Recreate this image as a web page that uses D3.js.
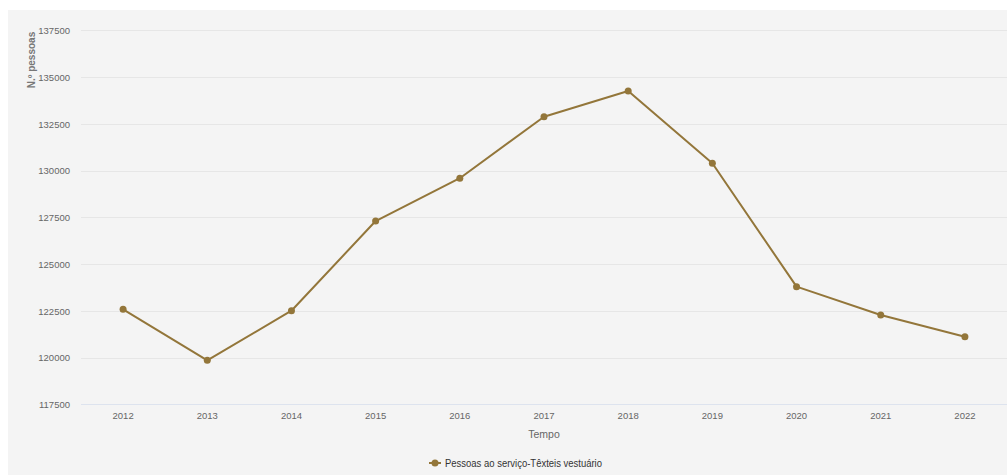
<!DOCTYPE html>
<html>
<head>
<meta charset="utf-8">
<script src="https://cdn.jsdelivr.net/npm/d3@7"></script>
<style>
  html, body { margin: 0; padding: 0; background: #ffffff; }
  svg { display: block; }
  text { font-family: "Liberation Sans", Arial, sans-serif; }
</style>
</head>
<body>
<svg id="chart" width="1007" height="475"></svg>
<script>
// Employment in the textiles/clothing sector, by year
const years = ["2012","2013","2014","2015","2016","2017","2018","2019","2020","2021","2022"];
const pessoas = [122580, 119850, 122505, 127300, 129590, 132880, 134255, 130390, 123790, 122275, 121115];
const yTicks = [117500, 120000, 122500, 125000, 127500, 130000, 132500, 135000, 137500];
const seriesName = "Pessoas ao serviço-Têxteis vestuário";
const yTitle = "N.º pessoas";
const xTitle = "Tempo";

const W = 1007, H = 475;
const panel = { x: 8, y: 10 };
const plot = { left: 81, right: 1007, top: 30.3, bottom: 404.3 };
const lineColor = "#93763a";
const textColor = "#666666";

const svg = d3.select("#chart");

svg.append("rect")
  .attr("x", panel.x).attr("y", panel.y)
  .attr("width", W - panel.x).attr("height", H - panel.y)
  .attr("fill", "#f4f4f4");

const x = d3.scaleBand().domain(years).range([plot.left, plot.right]).padding(0);
const y = d3.scaleLinear().domain([117500, 137500]).range([plot.bottom, plot.top]);
const cx = d => x(d) + x.bandwidth() / 2;

// horizontal grid
svg.append("g")
  .selectAll("line")
  .data(yTicks)
  .join("line")
  .attr("x1", plot.left).attr("x2", plot.right)
  .attr("y1", d => Math.round(y(d)) + 0.5).attr("y2", d => Math.round(y(d)) + 0.5)
  .attr("stroke", d => d === yTicks[0] ? "#dde3ee" : "#e6e6e6")
  .attr("stroke-width", 1);

// y axis labels
const yAxis = svg.append("g")
  .attr("transform", `translate(${plot.left - 11},0)`)
  .call(d3.axisLeft(y).tickValues(yTicks).tickFormat(d3.format("d")).tickSize(0).tickPadding(0));
yAxis.select(".domain").remove();
yAxis.selectAll("text")
  .attr("fill", textColor)
  .attr("font-size", 9.5)
  .attr("font-family", "'Liberation Sans', Arial, sans-serif")
  .attr("dy", "0.35em");

// x axis labels
const xAxis = svg.append("g")
  .attr("transform", `translate(0,${plot.bottom})`)
  .call(d3.axisBottom(x).tickSize(0).tickPadding(8));
xAxis.select(".domain").remove();
xAxis.selectAll("text")
  .attr("fill", textColor)
  .attr("font-size", 9.5)
  .attr("font-family", "'Liberation Sans', Arial, sans-serif");

// axis titles
svg.append("text")
  .attr("transform", "translate(35,60) rotate(-90)")
  .attr("text-anchor", "middle")
  .attr("fill", "#777777")
  .attr("font-size", 10)
  .attr("font-weight", "bold")
  .text(yTitle);

svg.append("text")
  .attr("x", (plot.left + plot.right) / 2)
  .attr("y", 438)
  .attr("text-anchor", "middle")
  .attr("fill", textColor)
  .attr("font-size", 10.5)
  .text(xTitle);

// series line and markers
const line = d3.line()
  .x((d, i) => cx(years[i]))
  .y(d => y(d));

svg.append("path")
  .datum(pessoas)
  .attr("d", line)
  .attr("fill", "none")
  .attr("stroke", lineColor)
  .attr("stroke-width", 2)
  .attr("stroke-linejoin", "round");

svg.append("g")
  .selectAll("circle")
  .data(pessoas)
  .join("circle")
  .attr("cx", (d, i) => cx(years[i]))
  .attr("cy", d => y(d))
  .attr("r", 3.5)
  .attr("fill", lineColor);

// legend
const lg = svg.append("g").attr("transform", "translate(435,463)");
lg.append("line").attr("x1", -6).attr("x2", 6).attr("y1", 0).attr("y2", 0)
  .attr("stroke", lineColor).attr("stroke-width", 2);
lg.append("circle").attr("r", 3.5).attr("fill", lineColor);
lg.append("text")
  .attr("x", 10).attr("y", 4)
  .attr("fill", "#333333")
  .attr("font-size", 11.5)
  .attr("textLength", 157)
  .attr("lengthAdjust", "spacingAndGlyphs")
  .text(seriesName);
</script>
</body>
</html>
